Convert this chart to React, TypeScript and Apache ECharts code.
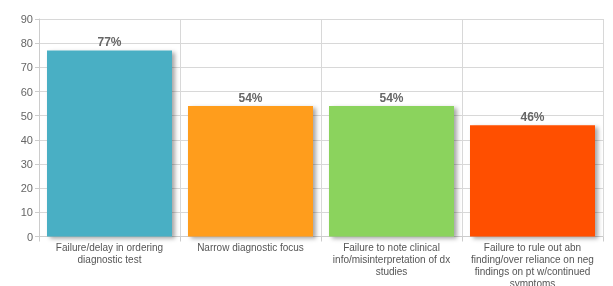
import React, { useEffect, useRef } from "react";
import * as echarts from "echarts";

const categories = [
  "Failure/delay in ordering\ndiagnostic test",
  "Narrow diagnostic focus",
  "Failure to note clinical\ninfo/misinterpretation of dx\nstudies",
  "Failure to rule out abn\nfinding/over reliance on neg\nfindings on pt w/continued\nsymptoms",
];
const values = [77, 54, 54, 46];
const colors = ["#4AAFC4", "#FF9D1E", "#8BD35D", "#FF5000"];

export default function App() {
  const ref = useRef<HTMLDivElement>(null);
  useEffect(() => {
    const chart = echarts.init(ref.current!, null, { renderer: "svg" });
    chart.setOption({
      animation: false,
      grid: { left: 39, right: 10, top: 19, bottom: 49.5, outerBoundsMode: "none", containLabel: false },
      xAxis: {
        type: "category",
        data: categories,
        axisLine: { lineStyle: { color: "#cccccc" } },
        axisTick: { show: true, length: 5, lineStyle: { color: "#cccccc" } },
        splitLine: { show: true, lineStyle: { color: "#d8d8d8" } },
        axisLabel: {
          interval: 0,
          color: "#555555",
          fontSize: 10,
          lineHeight: 12,
          fontFamily: "Liberation Sans, Arial, sans-serif",
          margin: 5,
        },
      },
      yAxis: {
        type: "value",
        min: 0,
        max: 90,
        interval: 10,
        axisLine: { show: true, lineStyle: { color: "#cccccc" } },
        axisTick: { show: true, length: 4, lineStyle: { color: "#cccccc" } },
        splitLine: { show: true, lineStyle: { color: "#d8d8d8" } },
        axisLabel: {
          color: "#666666",
          fontSize: 11,
          fontFamily: "Liberation Sans, Arial, sans-serif",
          margin: 6,
        },
      },
      series: [
        {
          type: "bar",
          barWidth: 125,
          data: values.map((v, i) => ({
            value: v,
            itemStyle: {
              color: colors[i],
              shadowColor: "rgba(0,0,0,0.35)",
              shadowOffsetX: 3,
              shadowOffsetY: 2,
              shadowBlur: 4,
            },
          })),
          label: {
            show: true,
            position: "top",
            distance: 2,
            formatter: "{c}%",
            color: "#666666",
            fontWeight: "bold",
            fontSize: 12,
            fontFamily: "Liberation Sans, Arial, sans-serif",
          },
        },
      ],
    });
    return () => chart.dispose();
  }, []);
  return (
    <div
      ref={ref}
      style={{ width: 613, height: 286, position: "fixed", left: 0, top: 0 }}
    />
  );
}
